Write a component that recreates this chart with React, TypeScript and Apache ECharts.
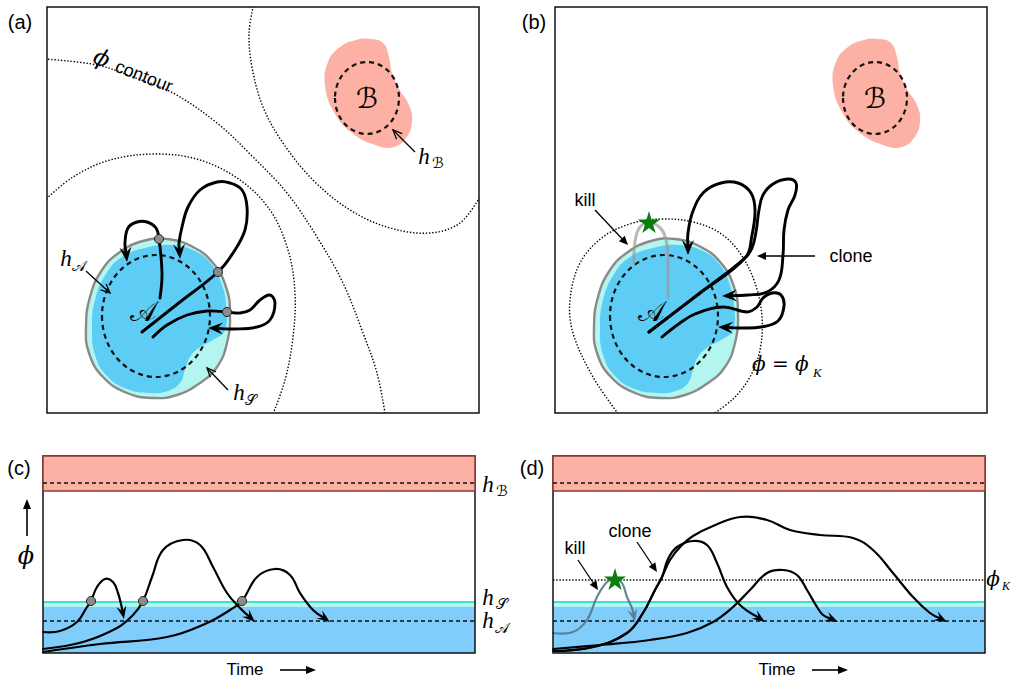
import React, { useEffect, useRef } from "react";
import * as echarts from "echarts";

type P = [number, number];

// ---------------- layout of the four panels (page pixels) ----------------
const PANELS = [
  { left: 47, top: 7, width: 432, height: 406 }, // (a)
  { left: 555, top: 7, width: 432, height: 406 }, // (b)
  { left: 43, top: 456, width: 432, height: 197 }, // (c)
  { left: 553, top: 456, width: 432, height: 197 }, // (d)
];

// ---------------- (a),(b) state space, panel-local units ----------------
const CONTOUR_PHI: P[] = [[-2, 52], [50, 58], [86, 70], [126, 86], [170, 116], [206, 150], [240, 186], [270, 230], [296, 276], [316, 326], [330, 366], [339, 412]];
const CONTOUR_AROUND_B: P[] = [[207, -4], [202, 26], [205, 60], [216, 100], [236, 136], [266, 173], [303, 203], [343, 221], [383, 226], [413, 216], [434, 188]];
const CONTOUR_AROUND_A: P[] = [[-3, 194], [26, 170], [63, 153], [110, 147], [153, 153], [193, 173], [223, 203], [241, 243], [248, 286], [246, 330], [238, 373], [224, 412]];
const CONTOUR_KILL: P[] = [[67, 412], [38, 370], [18, 326], [15, 293], [25, 256], [48, 230], [78, 216], [108, 212], [138, 215], [165, 226], [185, 246], [200, 276], [207, 310], [205, 343], [195, 370], [178, 392], [151, 412]];

const SET_B_OUTLINE: P[] = [[323, 32], [336, 36], [342, 50], [345, 66], [352, 82], [362, 98], [365, 115], [359, 131], [347, 140], [331, 139], [305, 126], [287, 105], [278, 78], [281, 55], [293, 40], [309, 33]];
const SET_B_CORE_CENTER: P = [320, 91];
const SET_B_CORE_RADII: P = [32, 36];
const SET_S_OUTLINE: P[] = [[96, 234], [120, 232], [146, 240], [166, 256], [179, 280], [183, 306], [180, 336], [170, 360], [153, 376], [130, 388], [106, 391], [80, 386], [56, 370], [42, 346], [39, 320], [43, 290], [55, 263], [73, 245]];
const SET_A_OUTLINE: P[] = [[123, 238], [148, 244], [165, 258], [175, 278], [179, 298], [178, 323], [166, 333], [153, 340], [143, 350], [138, 363], [133, 376], [121, 384], [103, 386], [80, 382], [60, 369], [48, 348], [45, 321], [48, 293], [59, 267], [75, 250], [98, 241]];
const SET_A_CORE_CENTER: P = [109, 309];
const SET_A_CORE_RADII: P = [54, 61];
const LABEL_A_POS: P = [96, 304];
const LABEL_B_POS: P = [320, 91];

// trajectories in (a)
const TRAJ_A1: P[] = [[95, 325], [133, 295], [171, 265], [186, 246], [198, 223], [200, 200], [195, 183], [183, 176], [170, 175], [153, 183], [141, 200], [135, 220], [132, 236], [133, 252]];
const TRAJ_A2: P[] = [[113, 291], [115, 266], [112, 232], [109, 221], [100, 215], [90, 215], [81, 221], [78, 236], [80, 255]];
const TRAJ_A3: P[] = [[106, 330], [120, 318], [140, 308], [160, 304], [180, 305], [193, 306], [203, 303], [213, 293], [223, 288], [228, 296], [223, 313], [210, 320], [186, 322], [161, 321]];
const CROSSINGS_A: P[] = [[171, 265], [112, 232], [180, 305]];

// trajectories in (b)
const TRAJ_B_MAIN: P[] = [[94, 325], [145, 286], [190, 251], [197, 228], [200, 203], [196, 186], [183, 176], [166, 176], [149, 185], [138, 204], [133, 226], [133, 248]];
const TRAJ_B_CLONE: P[] = [[94, 325], [145, 286], [190, 251], [197, 241], [201, 225], [204, 203], [208, 188], [218, 177], [233, 172], [241, 176], [240, 188], [233, 203], [229, 223], [228, 248], [224, 273], [212, 285], [193, 288], [167, 289]];
const TRAJ_B_LOW: P[] = [[107, 330], [125, 316], [140, 307], [168, 300], [192, 305], [202, 300], [208, 291], [217, 286], [226, 288], [229, 299], [223, 314], [206, 320], [186, 321], [163, 320]];
const TRAJ_B_KILL: P[] = [[113, 291], [113, 262], [112, 238], [107, 223], [96, 216], [85, 220], [80, 235], [79, 256]];
const STAR_B: P[] = [[94, 215]];

// ---------------- (c),(d) phi vs time, panel-local units ----------------
const LEVEL_B_BAND: P = [0, 35];
const LEVEL_HB = 27;
const LEVEL_S_LINE: P = [145, 147];
const LEVEL_S_BAND: P = [147, 151];
const LEVEL_A_BAND: P = [151, 197];
const LEVEL_HA = 165;
const LEVEL_K = 124;

const TRAJ_C1: P[] = [[0, 176], [17, 175], [34, 166], [44, 151], [48, 145], [54, 131], [62, 123], [70, 126], [75, 137], [78, 148], [81, 163]];
const TRAJ_C2: P[] = [[0, 193], [40, 186], [74, 172], [90, 159], [100, 145], [109, 121], [120, 94], [140, 84], [157, 89], [170, 111], [184, 137], [197, 152], [212, 166]];
const TRAJ_C3: P[] = [[0, 196], [57, 188], [124, 181], [164, 167], [187, 154], [199, 145], [214, 121], [232, 113], [247, 119], [257, 137], [270, 154], [287, 166]];
const CROSSINGS_C: P[] = [[48, 145], [100, 145], [199, 145]];

const TRAJ_D_KILL: P[] = [[0, 177], [20, 176], [34, 164], [44, 141], [54, 126], [62, 123], [69, 127], [74, 141], [79, 152], [82, 166]];
const TRAJ_D1: P[] = [[0, 195], [40, 191], [74, 177], [90, 157], [102, 134], [109, 121], [117, 104], [128, 90], [140, 80], [160, 70], [187, 61], [214, 64], [237, 74], [267, 79], [300, 82], [320, 94], [340, 117], [360, 141], [377, 157], [394, 166]];
const TRAJ_D2: P[] = [[0, 195], [40, 191], [74, 177], [90, 157], [102, 134], [109, 121], [115, 103], [124, 91], [140, 85], [154, 89], [164, 107], [174, 131], [187, 149], [212, 166]];
const TRAJ_D3: P[] = [[0, 193], [47, 189], [97, 184], [134, 177], [160, 166], [180, 151], [197, 134], [214, 117], [230, 114], [244, 119], [254, 134], [264, 151], [270, 159], [285, 166]];
const STAR_D: P[] = [[62, 123]];

// ---------------- styles ----------------
const SANS = '"Liberation Sans", Arial, Helvetica, sans-serif';
const SERIF = '"Liberation Serif", "DejaVu Serif", serif';
const MATH = '"DejaVu Serif", "DejaVu Sans", "Noto Sans", serif';
const C_SALMON = "#fcb1a4";
const C_LCYAN = "#b3f6ef";
const C_BLUE = "#5dcdf6";
const C_BAND_BLUE = "#80cdfc";
const C_CYAN_LINE = "#3fe0cf";
const C_STAR = "#0b7d0b";
const STAR_PATH = "path://M50,0 L61,35 L98,35 L68,57 L79,91 L50,70 L21,91 L32,57 L2,35 L39,35 Z";

function unit(a: number[], b: number[]) {
  const dx = b[0] - a[0], dy = b[1] - a[1];
  const l = Math.hypot(dx, dy) || 1;
  return [dx / l, dy / l];
}

function curve(grid: number, pts: P[], o: any) {
  return {
    type: "custom",
    coordinateSystem: "cartesian2d",
    xAxisIndex: grid,
    yAxisIndex: grid,
    silent: true,
    clip: !!o.clip,
    z: o.z ?? 2,
    data: [[0, 0]],
    renderItem: (_p: any, api: any) => {
      const px = pts.map((q) => api.coord(q));
      const children: any[] = [];
      let linePts = px;
      if (o.arrow) {
        const n = px.length, tip = px[n - 1];
        const [ux, uy] = unit(px[n - 2], tip);
        const nx = -uy, ny = ux;
        const L = o.headLen ?? 14, Wd = o.headWid ?? 11;
        const back = [tip[0] - ux * L, tip[1] - uy * L];
        const notch = [tip[0] - ux * L * 0.62, tip[1] - uy * L * 0.62];
        linePts = px.slice(0, n - 1).concat([notch]);
        children.push({
          type: "polygon",
          z2: 2,
          shape: { points: [tip, [back[0] + (nx * Wd) / 2, back[1] + (ny * Wd) / 2], notch, [back[0] - (nx * Wd) / 2, back[1] - (ny * Wd) / 2]] },
          style: { fill: o.color, opacity: o.opacity ?? 1 },
        });
      }
      children.unshift({
        type: o.closed ? "polygon" : "polyline",
        z2: 1,
        shape: { points: linePts, smooth: o.smooth ?? 0.4 },
        style: {
          stroke: o.color ?? null,
          fill: o.fill ?? null,
          lineWidth: o.width ?? 1,
          lineDash: o.dash ?? null,
          opacity: o.opacity ?? 1,
          lineCap: o.cap ?? "round",
          lineJoin: "round",
        },
      });
      return { type: "group", children };
    },
  };
}

// dashed core ellipse, radii converted through the axes
function ellipse(grid: number, c: P, r: P, o: any) {
  return {
    type: "custom",
    coordinateSystem: "cartesian2d",
    xAxisIndex: grid,
    yAxisIndex: grid,
    silent: true,
    z: o.z ?? 2,
    data: [[0, 0]],
    renderItem: (_p: any, api: any) => {
      const cc = api.coord(c);
      const ce = api.coord([c[0] + r[0], c[1] + r[1]]);
      const rx = Math.abs(ce[0] - cc[0]), ry = Math.abs(ce[1] - cc[1]);
      return {
        type: "group",
        children: [
          {
            type: "path",
            shape: {
              pathData: `M ${cc[0] - rx} ${cc[1]} A ${rx} ${ry} 0 1 0 ${cc[0] + rx} ${cc[1]} A ${rx} ${ry} 0 1 0 ${cc[0] - rx} ${cc[1]} Z`,
            },
            style: { stroke: o.color ?? "#111", fill: "none", lineWidth: o.width ?? 2, lineDash: o.dash ?? null },
          },
        ],
      };
    },
  };
}

function hband(grid: number, range: P, o: any) {
  return {
    type: "custom",
    coordinateSystem: "cartesian2d",
    xAxisIndex: grid,
    yAxisIndex: grid,
    silent: true,
    z: o.z ?? 2,
    data: [[0, 0]],
    renderItem: (_p: any, api: any) => {
      const a = api.coord([0, range[0]]);
      const b = api.coord([PANELS[grid].width, range[1]]);
      return {
        type: "rect",
        shape: { x: a[0], y: a[1], width: b[0] - a[0], height: b[1] - a[1] },
        style: { fill: o.fill ?? null, stroke: o.stroke ?? null, lineWidth: o.width ?? 1 },
      };
    },
  };
}

function hline(grid: number, y: number, o: any) {
  return curve(grid, [[0, y], [PANELS[grid].width, y]], { smooth: 0, cap: "butt", ...o });
}

function dots(grid: number, pts: P[]) {
  return {
    type: "scatter",
    xAxisIndex: grid,
    yAxisIndex: grid,
    silent: true,
    z: 5,
    symbol: "circle",
    symbolSize: 9,
    itemStyle: { color: "#8c8c8c", borderColor: "#222", borderWidth: 1, opacity: 1 },
    data: pts,
  };
}

function stars(grid: number, pts: P[]) {
  return {
    type: "scatter",
    xAxisIndex: grid,
    yAxisIndex: grid,
    silent: true,
    z: 5,
    symbol: STAR_PATH,
    symbolSize: 22,
    itemStyle: { color: C_STAR, opacity: 1 },
    data: pts,
  };
}

function txt(x: number, y: number, text: string, font: string, align = "center", vAlign = "middle") {
  return {
    type: "text",
    x,
    y,
    z: 10,
    silent: true,
    style: { text, font, fill: "#000", align, verticalAlign: vAlign, textAlign: align, textVerticalAlign: vAlign },
  };
}

function thinArrow(p0: P, p1: P, filled: boolean, L = 9, Wd = 8, lw = 1.3) {
  const [ux, uy] = unit(p0, p1);
  const nx = -uy, ny = ux;
  const back = [p1[0] - ux * L, p1[1] - uy * L];
  const end = filled ? back : p1;
  const a = [back[0] + (nx * Wd) / 2, back[1] + (ny * Wd) / 2];
  const b = [back[0] - (nx * Wd) / 2, back[1] - (ny * Wd) / 2];
  const els: any[] = [
    { type: "line", z: 10, silent: true, shape: { x1: p0[0], y1: p0[1], x2: end[0], y2: end[1] }, style: { stroke: "#000", lineWidth: lw } },
  ];
  if (filled) els.push({ type: "polygon", z: 10, silent: true, shape: { points: [p1, a, b] }, style: { fill: "#000" } });
  else els.push({ type: "polyline", z: 10, silent: true, shape: { points: [a, p1, b] }, style: { stroke: "#000", lineWidth: lw, fill: null } });
  return els;
}

function statePanel(g: number) {
  const dotted = { color: "#000", width: 1.4, dash: [1.4, 1.8], cap: "butt", clip: true, smooth: 0.35 };
  return [
    curve(g, SET_B_OUTLINE, { closed: true, fill: C_SALMON, color: null, smooth: 0.45 }),
    curve(g, SET_S_OUTLINE, { closed: true, fill: C_LCYAN, color: null, smooth: 0.45 }),
    curve(g, SET_A_OUTLINE, { closed: true, fill: C_BLUE, color: null, smooth: 0.45 }),
    curve(g, SET_S_OUTLINE, { closed: true, fill: null, color: "#8a8a8a", width: 2.4, smooth: 0.45 }),
    ...(g === 0
      ? [curve(g, CONTOUR_PHI, dotted), curve(g, CONTOUR_AROUND_B, dotted), curve(g, CONTOUR_AROUND_A, dotted)]
      : [curve(g, CONTOUR_KILL, dotted)]),
    ellipse(g, SET_B_CORE_CENTER, SET_B_CORE_RADII, { width: 2.2, dash: [5, 4], z: 3 }),
    ellipse(g, SET_A_CORE_CENTER, SET_A_CORE_RADII, { width: 2.2, dash: [5, 4], z: 3 }),
  ];
}

function timePanel(g: number) {
  return [
    hband(g, LEVEL_A_BAND, { fill: C_BAND_BLUE }),
    hband(g, LEVEL_S_BAND, { fill: C_LCYAN }),
    hband(g, LEVEL_S_LINE, { fill: C_CYAN_LINE }),
    hline(g, LEVEL_HA, { color: "#111", width: 1.6, dash: [4, 3] }),
  ];
}

function timePanelTop(g: number) {
  return [
    hband(g, [0, PANELS[g].height], { stroke: "#111", width: 1.5, z: 3 }),
    hband(g, LEVEL_B_BAND, { fill: C_SALMON, stroke: "#8a3d33", width: 1.5, z: 4 }),
    hline(g, LEVEL_HB, { color: "#111", width: 1.6, dash: [4, 3], z: 4 }),
  ];
}

const THICK = { color: "#000", width: 2.9, arrow: true, headLen: 15, headWid: 12, z: 4 };
const THIN = { color: "#000", width: 2.2, arrow: true, headLen: 13, headWid: 10 };

export default function App() {
  const ref = useRef<HTMLDivElement>(null);
  useEffect(() => {
    if (!ref.current) return;
    const chart = echarts.init(ref.current, undefined, { renderer: "svg" });
    const [PA, PB] = PANELS;

    const series: any[] = [
      // (a)
      ...statePanel(0),
      curve(0, TRAJ_A1, THICK),
      curve(0, TRAJ_A2, THICK),
      curve(0, TRAJ_A3, THICK),
      dots(0, CROSSINGS_A),
      hband(0, [0, PANELS[0].height], { stroke: "#111", width: 1.5, z: 3 }),
      // (b)
      ...statePanel(1),
      curve(1, TRAJ_B_KILL, { color: "#9a9a9a", width: 3, opacity: 0.7, z: 4 }),
      curve(1, TRAJ_B_MAIN, THICK),
      curve(1, TRAJ_B_CLONE, THICK),
      curve(1, TRAJ_B_LOW, THICK),
      stars(1, STAR_B),
      hband(1, [0, PANELS[1].height], { stroke: "#111", width: 1.5, z: 3 }),
      // (c)
      ...timePanel(2),
      curve(2, TRAJ_C1, THIN),
      curve(2, TRAJ_C2, THIN),
      curve(2, TRAJ_C3, THIN),
      dots(2, CROSSINGS_C),
      ...timePanelTop(2),
      // (d)
      ...timePanel(3),
      hline(3, LEVEL_K, { color: "#000", width: 1.4, dash: [1.4, 1.8] }),
      curve(3, TRAJ_D_KILL, { ...THIN, color: "#56798c", opacity: 0.9 }),
      curve(3, TRAJ_D3, THIN),
      curve(3, TRAJ_D1, THIN),
      curve(3, TRAJ_D2, THIN),
      stars(3, STAR_D),
      ...timePanelTop(3),
    ];

    const hFont = `italic 23px ${SERIF}`;
    const subFont = `15px ${MATH}`;
    const labelFont = `20px ${SANS}`;
    const wordFont = `18px ${SANS}`;
    const bigScript = `28px ${MATH}`;

    const graphic: any[] = [
      txt(20, 22, "(a)", labelFont),
      txt(534, 22, "(b)", labelFont),
      txt(19, 468, "(c)", labelFont),
      txt(532, 468, "(d)", labelFont),
      // (a)
      txt(66, 258, "h", hFont),
      txt(79, 266, "𝒜", subFont),
      ...thinArrow([86, 271], [110, 293], false),
      txt(239, 392, "h", hFont),
      txt(251, 400, "𝒮", subFont),
      ...thinArrow([228, 390], [207, 368], false),
      txt(424, 156, "h", hFont),
      txt(438, 163, "ℬ", subFont),
      ...thinArrow([415, 152], [393, 130], false),
      {
        type: "group",
        x: 136,
        y: 72,
        rotation: -0.37,
        z: 10,
        children: [txt(-37, -1, "ϕ", `italic 23px ${MATH}`), txt(9, 1, "contour", wordFont)],
      },
      txt(PA.left + LABEL_A_POS[0], PA.top + LABEL_A_POS[1], "𝒜", bigScript),
      txt(PA.left + LABEL_B_POS[0], PA.top + LABEL_B_POS[1], "ℬ", bigScript),
      // (b)
      txt(PB.left + LABEL_A_POS[0], PB.top + LABEL_A_POS[1], "𝒜", bigScript),
      txt(PB.left + LABEL_B_POS[0], PB.top + LABEL_B_POS[1], "ℬ", bigScript),
      txt(585, 200, "kill", wordFont),
      ...thinArrow([595, 210], [628, 245], true),
      txt(851, 256, "clone", wordFont),
      ...thinArrow([815, 256], [757, 256], true),
      txt(752, 364, "ϕ = ϕ", `italic 20px ${MATH}`, "left"),
      txt(813, 372, "K", `italic 13px ${SERIF}`, "left"),
      // (c)
      txt(488, 484, "h", hFont),
      txt(502, 491, "ℬ", subFont),
      txt(488, 597, "h", hFont),
      txt(502, 604, "𝒮", subFont),
      txt(488, 620, "h", hFont),
      txt(502, 628, "𝒜", subFont),
      txt(26, 556, "ϕ", `italic 24px ${MATH}`),
      ...thinArrow([27, 536], [27, 499], true, 10, 8, 1.6),
      txt(245, 669, "Time", `17px ${SANS}`),
      ...thinArrow([280, 670], [316, 670], true, 10, 8, 1.6),
      // (d)
      txt(575, 548, "kill", wordFont),
      ...thinArrow([578, 560], [598, 590], true),
      txt(630, 531, "clone", wordFont),
      ...thinArrow([637, 542], [657, 572], true),
      txt(993, 579, "ϕ", `italic 20px ${MATH}`),
      txt(1002, 586, "K", `italic 12px ${SERIF}`, "left"),
      txt(777, 669, "Time", `17px ${SANS}`),
      ...thinArrow([812, 670], [848, 670], true, 10, 8, 1.6),
    ];

    chart.setOption({
      animation: false,
      backgroundColor: "#ffffff",
      grid: PANELS.map((p) => ({ left: p.left, top: p.top, width: p.width, height: p.height, containLabel: false, outerBoundsMode: "none" })),
      xAxis: PANELS.map((p, i) => ({ type: "value", gridIndex: i, min: 0, max: p.width, show: false })),
      yAxis: PANELS.map((p, i) => ({ type: "value", gridIndex: i, min: 0, max: p.height, inverse: true, show: false })),
      series,
      graphic,
    });
    return () => chart.dispose();
  }, []);
  return <div ref={ref} style={{ position: "absolute", left: 0, top: 0, width: 1012, height: 679 }} />;
}
